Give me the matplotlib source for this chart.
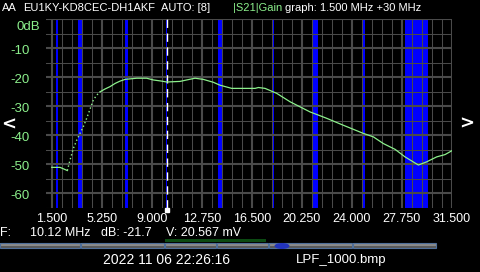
import matplotlib
matplotlib.use("Agg")
import matplotlib.pyplot as plt
from matplotlib.patches import Rectangle, Ellipse
from matplotlib.transforms import blended_transform_factory

freq_mhz = [1.50, 2.12, 2.37, 2.67, 2.87, 3.12, 3.38, 3.62, 3.87, 4.12, 4.37, 4.62,
            4.88, 5.12, 5.50, 5.87, 6.25, 6.62, 7.00, 7.87, 8.62, 9.12, 9.75, 10.12,
            11.12, 11.62, 12.25, 12.87, 13.62, 14.12, 15.00, 16.75, 17.00, 17.50,
            18.37, 19.37, 20.87, 22.12, 23.37, 24.87, 25.62, 26.37, 27.25, 28.00,
            29.00, 29.62, 30.37, 31.00, 31.50]
gain_db = [-51.1, -51.1, -51.6, -52.2, -48.6, -44.6, -41.7, -39.4, -37.1, -34.2, -31.1, -27.9,
           -26.2, -25.1, -24.1, -23.3, -22.2, -21.4, -20.8, -20.4, -20.4, -21.0, -21.4, -21.7,
           -21.5, -21.0, -20.4, -20.8, -21.8, -22.8, -23.9, -23.9, -23.6, -23.9,
           -25.6, -28.5, -32.0, -34.2, -36.6, -39.4, -40.6, -42.9, -44.9, -47.5,
           -50.3, -49.2, -47.5, -46.7, -45.4]

# Bandes radioamateur (MHz)
bands = [(1.80, 2.00), (3.45, 3.75), (7.00, 7.25), (10.10, 10.17), (14.00, 14.33),
         (18.00, 18.15), (21.00, 21.47), (24.82, 24.97), (28.00, 29.70)]

x_ticks = [1.5, 5.25, 9.0, 12.75, 16.5, 20.25, 24.0, 27.75, 31.5]
x_labels = ["1.500", "5.250", "9.000", "12.750", "16.500", "20.250", "24.000", "27.750", "31.500"]
y_ticks = [0, -10, -20, -30, -40, -50, -60]
y_labels = ["0dB", "-10", "-20", "-30", "-40", "-50", "-60"]
cursor_mhz = 10.12

W, H = 480, 272
GREEN = "#8cf08c"
GRID = "#4a4a4a"
plt.rcParams["font.family"] = ["Liberation Sans", "DejaVu Sans"]

fig = plt.figure(figsize=(W / 100, H / 100), dpi=100, facecolor="black")
ax = fig.add_axes([46 / W, 1 - 207.7 / H, 406 / W, 188.7 / H], facecolor="black")
ax.set_xlim(1.07, 31.52)
ax.set_ylim(-65, 0)
for s in ax.spines.values():
    s.set_visible(False)

# bandes bleues
for lo, hi in bands:
    ax.axvspan(lo, hi, color="#0000ff", lw=0, zorder=0)

# grille (mineure tous les 0.75 MHz / 5 dB, majeure sur les graduations)
step_x = (x_ticks[1] - x_ticks[0]) / 5
for k in range(41):
    f = x_ticks[0] + k * step_x
    ax.axvline(f, color=GRID, lw=1.5 if k % 5 == 0 else 0.75, zorder=1)
for k in range(14):
    v = -5 * k
    ax.axhline(v, color=GRID, lw=1.5 if k % 2 == 0 else 0.75, zorder=1)

# curseur
ax.axvline(cursor_mhz, color="white", lw=1, linestyle=(0, (6, 4)), zorder=2)

# courbe (partie raide en pointillé comme sur l'écran)
ax.plot(freq_mhz[:4], gain_db[:4], color=GREEN, lw=0.9, zorder=3)
ax.plot(freq_mhz[3:14], gain_db[3:14], color=GREEN, lw=1.0, linestyle=(0, (1, 1.8)), zorder=3)
ax.plot(freq_mhz[13:], gain_db[13:], color=GREEN, lw=0.9, zorder=3)

ax.set_xticks(x_ticks, x_labels)
ax.tick_params(axis="x", colors="white", labelsize=9, length=0, pad=4)
ax.set_yticks([])

tr = blended_transform_factory(fig.transFigure, ax.transData)
for v, lab in zip(y_ticks, y_labels):
    if v == 0:
        ax.text(16.7 / W, -2.7, lab, transform=tr, color=GREEN, fontsize=9.5, va="center", ha="left")
    else:
        ax.text(10.7 / W, v - 0.9, lab, transform=tr, color=GREEN, fontsize=9.5, va="center", ha="left")

# marqueur du curseur sous l'axe
ax.plot([cursor_mhz], [-65.9], marker="s", ms=3, color="white", clip_on=False, zorder=4)


def txt(x, y, s, **kw):
    kw.setdefault("color", "white")
    kw.setdefault("fontsize", 8)
    fig.text(x / W, 1 - y / H, s, va="center", ha=kw.pop("ha", "left"), **kw)


# en-tête
txt(2, 8, "AA")
txt(23, 8, "EU1KY-KD8CEC-DH1AKF")
txt(161, 8, "AUTO: [8]")
txt(233, 8, "|S21|Gain", color=GREEN)
txt(285, 8, "graph: 1.500 MHz +30 MHz")

txt(9, 125, "<", fontsize=13, fontweight="bold", family="DejaVu Sans", ha="center")
txt(467, 124, ">", fontsize=13, fontweight="bold", family="DejaVu Sans", ha="center")

# ligne de mesure
txt(0, 233, "F:", fontsize=9)
txt(30, 233, "10.12 MHz", fontsize=9)
txt(101, 233, "dB: -21.7", fontsize=9)
txt(166, 233, "V: 20.567 mV", fontsize=9)

# barre de boutons
fig.add_artist(Rectangle((165 / W, 1 - 242 / H), 101 / W, 2.7 / H,
                         transform=fig.transFigure, color="#0b4a12", lw=0))
for x0, x1 in [(0, 80), (81, 164), (165, 216), (217, 268), (269, 352), (353, 436)]:
    fig.add_artist(Rectangle((x0 / W, 1 - 245.5 / H), (x1 - x0) / W, 2.5 / H,
                             transform=fig.transFigure, color="#8a8a8a", lw=0))
    fig.add_artist(Rectangle((x0 / W, 1 - 248 / H), (x1 - x0) / W, 2.5 / H,
                             transform=fig.transFigure, color="#5a5a5a", lw=0))
    fig.add_artist(Rectangle((x0 / W, 1 - 248 / H), (x1 - x0) / W, 5 / H,
                             transform=fig.transFigure, fill=False, ec="#4f6f9a", lw=0.8))
fig.add_artist(Ellipse((282 / W, 1 - 246 / H), 15 / W, 6 / H,
                       transform=fig.transFigure, color="#2233bb", lw=0))

txt(166.7, 260, "2022 11 06 22:26:16", fontsize=10, ha="center")
txt(341.5, 260, "LPF_1000.bmp", fontsize=9.5, ha="center")

fig.savefig("out.png", dpi=100, facecolor="black")
